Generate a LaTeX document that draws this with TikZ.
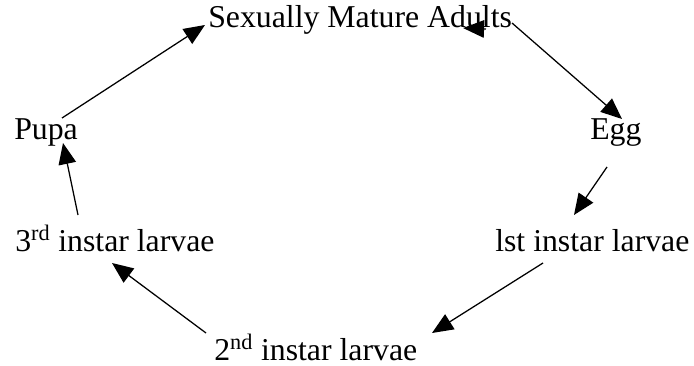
\documentclass[tikz,border=0pt]{standalone}
\usepackage{fontspec}
\setmainfont{Liberation Serif}
\usetikzlibrary{arrows.meta, positioning}
\tikzstyle{arrow} = [line width=0.9pt, black, -{Triangle[length=15pt,width=12.5pt]}]
\tikzstyle{stage} = [inner sep=0pt, anchor=base west, font=\fontsize{22.6}{27}\selectfont]

\begin{document}
\begin{tikzpicture}[x=0.025cm, y=-0.025cm]
            \useasboundingbox (0,0) rectangle (694,366);

            % Life stages
            \node[stage] (adults) at (208,28) {Sexually Mature Adults};
            \node[stage] (egg) at (590,140) {Egg};
            \node[stage] (first) at (495,251) {lst instar larvae};
            \node[stage] (second) at (214,360) {2\textsuperscript{nd} instar larvae};
            \node[stage] (third) at (15,251) {3\textsuperscript{rd} instar larvae};
            \node[stage] (pupa) at (14,140) {Pupa};

            % Arrow ends
            \coordinate (pupa out) at (62,118);
            \coordinate (adults in) at (205,25);
            \coordinate (adults tail) at (486,29);
            \coordinate (adults tip) at (463,28);
            \coordinate (adults out) at (512,23);
            \coordinate (egg in) at (622,119);
            \coordinate (egg out) at (607,167);
            \coordinate (first in) at (574,215);
            \coordinate (first out) at (543,263);
            \coordinate (second in) at (432,333);
            \coordinate (second out) at (206,333);
            \coordinate (third in) at (112,263);
            \coordinate (third out) at (78,215);
            \coordinate (pupa in) at (63,143);

            % Cycle
            \foreach \a/\b in {pupa out/adults in, adults tail/adults tip, adults out/egg in, egg out/first in, first out/second in, second out/third in, third out/pupa in} {
                    \draw[arrow] (\a) -- (\b);
                }
        \end{tikzpicture}
\end{document}
